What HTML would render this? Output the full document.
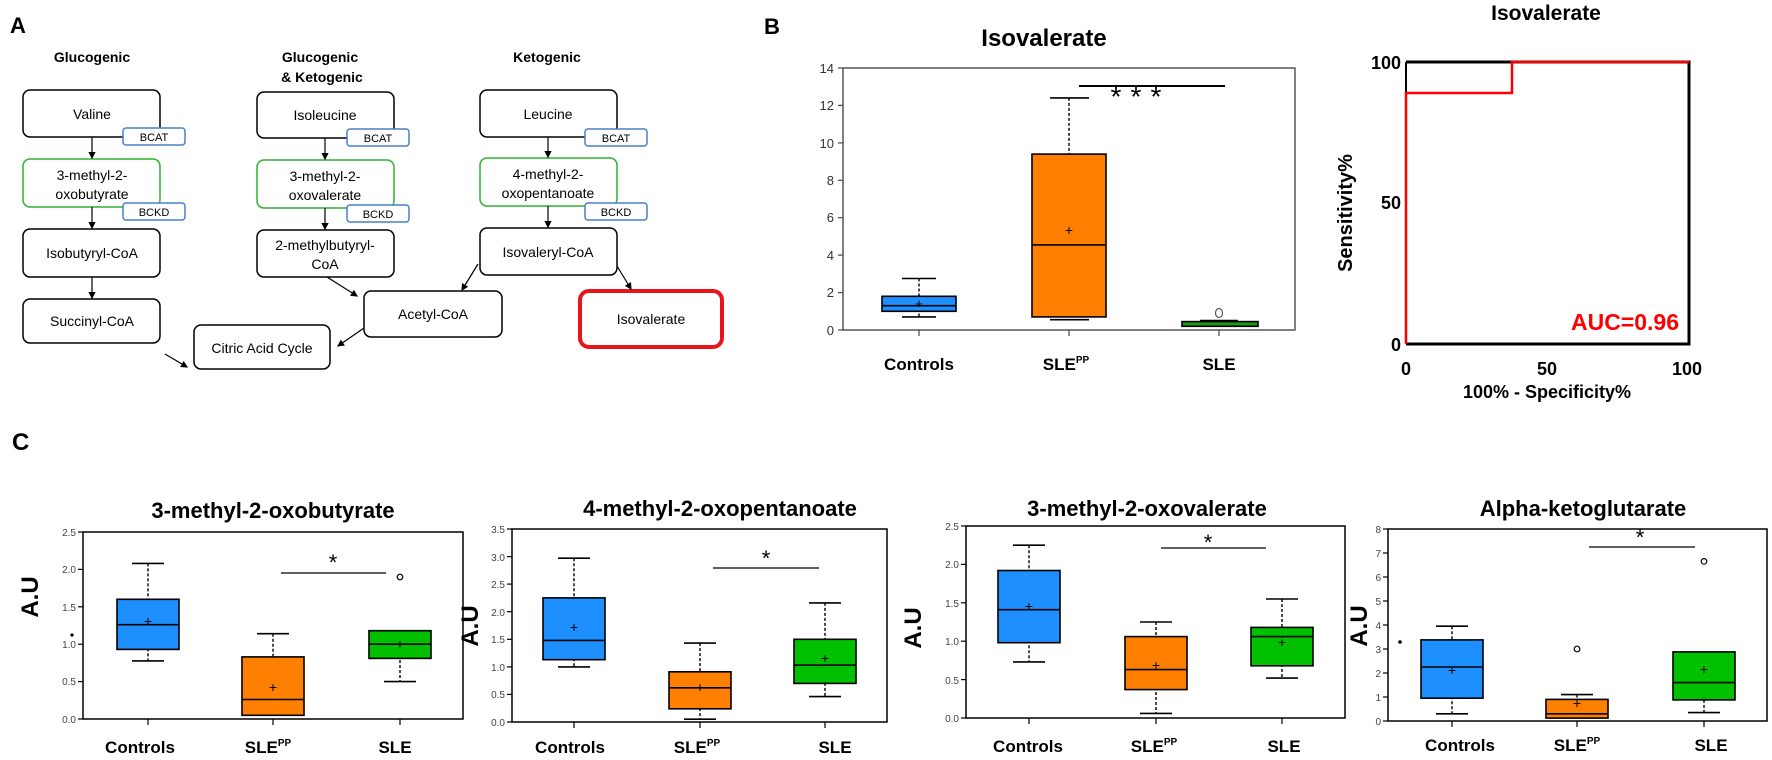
<!DOCTYPE html>
<html><head><meta charset="utf-8"><style>
html,body{margin:0;padding:0;background:#fff;}
svg{display:block;}
text{font-family:"Liberation Sans",sans-serif;}
.bx{stroke:#000;stroke-width:1.6;}
.wd{stroke:#000;stroke-width:1.4;stroke-dasharray:3,2;}
.wc{stroke:#000;stroke-width:1.6;}
.tk{font-size:10px;fill:#444;text-anchor:end;}
.xl{font-size:17px;font-weight:bold;text-anchor:middle;}
.ct{font-size:22px;font-weight:bold;text-anchor:middle;}
.au{font-size:24px;font-weight:bold;text-anchor:middle;}
.ab{font-size:14px;text-anchor:middle;}
.hd{font-size:14px;font-weight:bold;text-anchor:middle;}
.en{font-size:11px;text-anchor:middle;}
</style></head><body>
<svg width="1772" height="760" viewBox="0 0 1772 760" xmlns="http://www.w3.org/2000/svg">
<defs><marker id="ar" markerWidth="6" markerHeight="6" refX="5" refY="3" orient="auto"><path d="M0,0 L6,3 L0,6 z" fill="#000"/></marker></defs>
<!-- Panel A -->
<text x="10" y="33" font-size="22" font-weight="bold">A</text>
<text class="hd" x="92" y="62">Glucogenic</text>
<text class="hd" x="320" y="62">Glucogenic</text>
<text class="hd" x="322" y="82">&amp; Ketogenic</text>
<text class="hd" x="547" y="62">Ketogenic</text>
<g fill="#fff" stroke="#000" stroke-width="1.5">
<rect x="23" y="90" width="137" height="47" rx="7"/>
<rect x="23" y="229" width="137" height="48" rx="7"/>
<rect x="23" y="299" width="137" height="44" rx="7"/>
<rect x="257" y="92" width="137" height="46" rx="7"/>
<rect x="257" y="230" width="137" height="47" rx="7"/>
<rect x="480" y="90" width="137" height="47" rx="7"/>
<rect x="480" y="228" width="137" height="47" rx="7"/>
<rect x="364" y="291" width="138" height="46" rx="7"/>
<rect x="194" y="325" width="136" height="44" rx="7"/>
</g>
<g fill="#fff" stroke="#2db32d" stroke-width="1.5">
<rect x="23" y="159" width="137" height="48" rx="7"/>
<rect x="257" y="160" width="137" height="48" rx="7"/>
<rect x="480" y="158" width="137" height="48" rx="7"/>
</g>
<rect x="580" y="291" width="142" height="56" rx="9" fill="#fff" stroke="#e8141b" stroke-width="4"/>
<g fill="#fff" stroke="#4a7fc8" stroke-width="1.5">
<rect x="123" y="128" width="62" height="17" rx="3"/>
<rect x="123" y="203" width="62" height="17" rx="3"/>
<rect x="347" y="129" width="62" height="17" rx="3"/>
<rect x="347" y="205" width="62" height="17" rx="3"/>
<rect x="585" y="129" width="62" height="17" rx="3"/>
<rect x="585" y="203" width="62" height="17" rx="3"/>
</g>
<g stroke="#000" stroke-width="1.2" marker-end="url(#ar)">
<line x1="92" y1="137" x2="92" y2="158"/>
<line x1="92" y1="207" x2="92" y2="228"/>
<line x1="92" y1="277" x2="92" y2="298"/>
<line x1="325" y1="138" x2="325" y2="159"/>
<line x1="325" y1="208" x2="325" y2="229"/>
<line x1="548" y1="137" x2="548" y2="157"/>
<line x1="548" y1="206" x2="548" y2="227"/>
<line x1="327" y1="277" x2="357" y2="296"/>
<line x1="478" y1="264" x2="462" y2="290"/>
<line x1="617" y1="266" x2="631" y2="289"/>
<line x1="364" y1="328" x2="338" y2="346"/>
<line x1="165" y1="354" x2="187" y2="367"/>
</g>
<text class="ab" x="92" y="119">Valine</text>
<text class="ab" x="92" y="180">3-methyl-2-</text>
<text class="ab" x="92" y="199">oxobutyrate</text>
<text class="ab" x="92" y="258">Isobutyryl-CoA</text>
<text class="ab" x="92" y="326">Succinyl-CoA</text>
<text class="ab" x="325" y="120">Isoleucine</text>
<text class="ab" x="325" y="181">3-methyl-2-</text>
<text class="ab" x="325" y="200">oxovalerate</text>
<text class="ab" x="325" y="250">2-methylbutyryl-</text>
<text class="ab" x="325" y="269">CoA</text>
<text class="ab" x="548" y="119">Leucine</text>
<text class="ab" x="548" y="179">4-methyl-2-</text>
<text class="ab" x="548" y="198">oxopentanoate</text>
<text class="ab" x="548" y="257">Isovaleryl-CoA</text>
<text class="ab" x="433" y="319">Acetyl-CoA</text>
<text class="ab" x="262" y="353">Citric Acid Cycle</text>
<text class="ab" x="651" y="324">Isovalerate</text>
<text class="en" x="154" y="141">BCAT</text>
<text class="en" x="154" y="216">BCKD</text>
<text class="en" x="378" y="142">BCAT</text>
<text class="en" x="378" y="218">BCKD</text>
<text class="en" x="616" y="142">BCAT</text>
<text class="en" x="616" y="216">BCKD</text>

<!-- Panel B box -->
<text x="764" y="34" font-size="22" font-weight="bold">B</text>
<text x="1044" y="46" font-size="24" font-weight="bold" text-anchor="middle">Isovalerate</text>
<rect x="843" y="68" width="452" height="262" fill="none" stroke="#555" stroke-width="1.5"/>
<g stroke="#555" stroke-width="1.3">
<line x1="838" y1="330" x2="843" y2="330"/><line x1="838" y1="292.6" x2="843" y2="292.6"/><line x1="838" y1="255.1" x2="843" y2="255.1"/><line x1="838" y1="217.7" x2="843" y2="217.7"/><line x1="838" y1="180.3" x2="843" y2="180.3"/><line x1="838" y1="142.9" x2="843" y2="142.9"/><line x1="838" y1="105.4" x2="843" y2="105.4"/><line x1="838" y1="68" x2="843" y2="68"/>
<line x1="919" y1="330" x2="919" y2="336"/><line x1="1069" y1="330" x2="1069" y2="336"/><line x1="1219" y1="330" x2="1219" y2="336"/>
</g>
<g font-size="13" fill="#333" text-anchor="end">
<text x="834" y="335">0</text><text x="834" y="297">2</text><text x="834" y="260">4</text><text x="834" y="222">6</text><text x="834" y="185">8</text><text x="834" y="148">10</text><text x="834" y="110">12</text><text x="834" y="73">14</text>
</g>
<line class="wd" x1="919" y1="278.5" x2="919" y2="316.9"/><line class="wc" x1="902" y1="278.5" x2="936" y2="278.5"/><line class="wc" x1="902" y1="316.9" x2="936" y2="316.9"/>
<rect class="bx" x="882" y="296.3" width="74" height="15" fill="#1e8fff"/><line class="wc" x1="882" y1="305.7" x2="956" y2="305.7"/>
<text x="919" y="308" font-size="13" text-anchor="middle">+</text>
<line class="wd" x1="1069" y1="97.9" x2="1069" y2="154"/><line class="wc" x1="1050" y1="97.9" x2="1089" y2="97.9"/><line class="wc" x1="1050" y1="319.7" x2="1089" y2="319.7" stroke="#888"/>
<rect class="bx" x="1032" y="154.1" width="74" height="162.8" fill="#ff8000"/><line class="wc" x1="1032" y1="244.9" x2="1106" y2="244.9"/>
<text x="1069" y="235" font-size="14" text-anchor="middle">+</text>
<rect class="bx" x="1182" y="321.6" width="76" height="4.7" fill="#1a9a1a"/><line class="wc" x1="1200" y1="320.5" x2="1238" y2="320.5"/>
<ellipse cx="1219" cy="313" rx="3.5" ry="4.5" fill="#fff" stroke="#555" stroke-width="1.2"/>
<line x1="1079" y1="86" x2="1225" y2="86" stroke="#000" stroke-width="2"/>
<text x="1116" y="106" font-size="28" text-anchor="middle">*</text>
<text x="1136" y="106" font-size="28" text-anchor="middle">*</text>
<text x="1156" y="106" font-size="28" text-anchor="middle">*</text>
<text class="xl" x="919" y="370" font-size="16">Controls</text>
<text class="xl" x="1066" y="370">SLE<tspan font-size="10" dy="-7">PP</tspan></text>
<text class="xl" x="1219" y="370">SLE</text>

<!-- ROC -->
<text x="1546" y="20" font-size="21" font-weight="bold" text-anchor="middle">Isovalerate</text>
<polyline points="1406,62 1689,62 1689,344 1406,344" fill="none" stroke="#000" stroke-width="3"/>
<line x1="1406" y1="62" x2="1406" y2="93" stroke="#000" stroke-width="2"/>
<polyline points="1406,344 1406,93 1512,93 1512,62 1689,62" fill="none" stroke="#f00" stroke-width="2.5"/>
<g font-size="18" font-weight="bold" text-anchor="end">
<text x="1401" y="69">100</text><text x="1401" y="209">50</text><text x="1401" y="351">0</text>
</g>
<g font-size="18" font-weight="bold" text-anchor="middle">
<text x="1406" y="375">0</text><text x="1547" y="375">50</text><text x="1687" y="375">100</text>
<text x="1547" y="398">100% - Specificity%</text>
</g>
<text transform="translate(1352,213) rotate(-90)" font-size="20" font-weight="bold" text-anchor="middle">Sensitivity%</text>
<text x="1679" y="330" font-size="23" font-weight="bold" fill="#f00" text-anchor="end">AUC=0.96</text>

<!-- Panel C -->
<text x="12" y="450" font-size="24" font-weight="bold">C</text>

<!-- C1 -->
<text class="ct" x="273" y="518">3-methyl-2-oxobutyrate</text>
<rect x="83" y="532" width="380" height="187" fill="none" stroke="#000" stroke-width="1.5"/>
<g stroke="#000" stroke-width="1.2"><line x1="78" y1="719" x2="83" y2="719"/><line x1="78" y1="681.6" x2="83" y2="681.6"/><line x1="78" y1="644.2" x2="83" y2="644.2"/><line x1="78" y1="606.8" x2="83" y2="606.8"/><line x1="78" y1="569.4" x2="83" y2="569.4"/><line x1="78" y1="532" x2="83" y2="532"/>
<line x1="148" y1="719" x2="148" y2="725"/><line x1="273" y1="719" x2="273" y2="725"/><line x1="400" y1="719" x2="400" y2="725"/></g>
<g class="tk"><text x="76" y="723">0.0</text><text x="76" y="685">0.5</text><text x="76" y="648">1.0</text><text x="76" y="611">1.5</text><text x="76" y="573">2.0</text><text x="76" y="536">2.5</text></g>
<line class="wd" x1="148" y1="563.4" x2="148" y2="660.9"/><line class="wc" x1="132" y1="563.4" x2="164" y2="563.4"/><line class="wc" x1="132" y1="660.9" x2="164" y2="660.9"/>
<rect class="bx" x="117" y="599.3" width="62" height="50.1" fill="#1e8fff"/><line class="wc" x1="117" y1="624.7" x2="179" y2="624.7"/><text x="148" y="626" font-size="14" text-anchor="middle">+</text>
<line class="wd" x1="273" y1="633.7" x2="273" y2="657"/><line class="wc" x1="257" y1="633.7" x2="289" y2="633.7"/>
<rect class="bx" x="242" y="656.9" width="62" height="58.4" fill="#ff8000"/><line class="wc" x1="242" y1="699.5" x2="304" y2="699.5"/><text x="273" y="692" font-size="14" text-anchor="middle">+</text>
<line class="wd" x1="400" y1="630" x2="400" y2="681.6"/><line class="wc" x1="384" y1="681.6" x2="416" y2="681.6"/>
<rect class="bx" x="369" y="630.7" width="62" height="27.7" fill="#00c000"/><line class="wc" x1="369" y1="644.2" x2="431" y2="644.2"/><text x="400" y="649" font-size="14" text-anchor="middle">+</text>
<circle cx="400" cy="577" r="2.8" fill="#fff" stroke="#000" stroke-width="1.2"/>
<circle cx="72" cy="635" r="1.6" fill="#000"/>
<line x1="281" y1="573" x2="386" y2="573" stroke="#000" stroke-width="1.2"/>
<text x="333" y="570" font-size="22" text-anchor="middle">*</text>
<text class="au" transform="translate(38,597) rotate(-90)">A.U</text>
<text class="xl" x="140" y="753">Controls</text><text class="xl" x="268" y="753">SLE<tspan font-size="10" dy="-7">PP</tspan></text><text class="xl" x="395" y="753">SLE</text>

<!-- C2 -->
<text class="ct" x="720" y="516">4-methyl-2-oxopentanoate</text>
<rect x="512" y="529" width="375" height="193" fill="none" stroke="#000" stroke-width="1.5"/>
<g stroke="#000" stroke-width="1.2"><line x1="507" y1="722" x2="512" y2="722"/><line x1="507" y1="694.4" x2="512" y2="694.4"/><line x1="507" y1="666.9" x2="512" y2="666.9"/><line x1="507" y1="639.3" x2="512" y2="639.3"/><line x1="507" y1="611.7" x2="512" y2="611.7"/><line x1="507" y1="584.1" x2="512" y2="584.1"/><line x1="507" y1="556.6" x2="512" y2="556.6"/><line x1="507" y1="529" x2="512" y2="529"/>
<line x1="574" y1="722" x2="574" y2="728"/><line x1="700" y1="722" x2="700" y2="728"/><line x1="825" y1="722" x2="825" y2="728"/></g>
<g class="tk"><text x="505" y="726">0.0</text><text x="505" y="698">0.5</text><text x="505" y="671">1.0</text><text x="505" y="643">1.5</text><text x="505" y="616">2.0</text><text x="505" y="588">2.5</text><text x="505" y="561">3.0</text><text x="505" y="533">3.5</text></g>
<line class="wd" x1="574" y1="558.2" x2="574" y2="666.9"/><line class="wc" x1="558" y1="558.2" x2="590" y2="558.2"/><line class="wc" x1="558" y1="666.9" x2="590" y2="666.9"/>
<rect class="bx" x="543" y="597.9" width="62" height="61.8" fill="#1e8fff"/><line class="wc" x1="543" y1="640.4" x2="605" y2="640.4"/><text x="574" y="632" font-size="14" text-anchor="middle">+</text>
<line class="wd" x1="700" y1="643.1" x2="700" y2="719.2"/><line class="wc" x1="684" y1="643.1" x2="716" y2="643.1"/><line class="wc" x1="684" y1="719.2" x2="716" y2="719.2"/>
<rect class="bx" x="669" y="671.8" width="62" height="37" fill="#ff8000"/><line class="wc" x1="669" y1="687.8" x2="731" y2="687.8"/><text x="700" y="692" font-size="14" text-anchor="middle">+</text>
<line class="wd" x1="825" y1="602.9" x2="825" y2="696.6"/><line class="wc" x1="809" y1="602.9" x2="841" y2="602.9"/><line class="wc" x1="809" y1="696.6" x2="841" y2="696.6"/>
<rect class="bx" x="794" y="639.3" width="62" height="44.1" fill="#00c000"/><line class="wc" x1="794" y1="665.2" x2="856" y2="665.2"/><text x="825" y="663" font-size="14" text-anchor="middle">+</text>
<line x1="713" y1="568" x2="819" y2="568" stroke="#000" stroke-width="1.2"/>
<text x="766" y="566" font-size="22" text-anchor="middle">*</text>
<text class="au" transform="translate(478,626) rotate(-90)">A.U</text>
<text class="xl" x="570" y="753">Controls</text><text class="xl" x="697" y="753">SLE<tspan font-size="10" dy="-7">PP</tspan></text><text class="xl" x="835" y="753">SLE</text>

<!-- C3 -->
<text class="ct" x="1147" y="516">3-methyl-2-oxovalerate</text>
<rect x="966" y="526" width="379" height="192" fill="none" stroke="#000" stroke-width="1.5"/>
<g stroke="#000" stroke-width="1.2"><line x1="961" y1="718" x2="966" y2="718"/><line x1="961" y1="679.6" x2="966" y2="679.6"/><line x1="961" y1="641.2" x2="966" y2="641.2"/><line x1="961" y1="602.8" x2="966" y2="602.8"/><line x1="961" y1="564.4" x2="966" y2="564.4"/><line x1="961" y1="526" x2="966" y2="526"/>
<line x1="1029" y1="718" x2="1029" y2="724"/><line x1="1156" y1="718" x2="1156" y2="724"/><line x1="1282" y1="718" x2="1282" y2="724"/></g>
<g class="tk"><text x="959" y="722">0.0</text><text x="959" y="684">0.5</text><text x="959" y="645">1.0</text><text x="959" y="607">1.5</text><text x="959" y="568">2.0</text><text x="959" y="530">2.5</text></g>
<line class="wd" x1="1029" y1="545.2" x2="1029" y2="661.9"/><line class="wc" x1="1013" y1="545.2" x2="1045" y2="545.2"/><line class="wc" x1="1013" y1="661.9" x2="1045" y2="661.9"/>
<rect class="bx" x="998" y="570.5" width="62" height="72.2" fill="#1e8fff"/><line class="wc" x1="998" y1="609.7" x2="1060" y2="609.7"/><text x="1029" y="611" font-size="14" text-anchor="middle">+</text>
<line class="wd" x1="1156" y1="622" x2="1156" y2="713.4"/><line class="wc" x1="1140" y1="622" x2="1172" y2="622"/><line class="wc" x1="1140" y1="713.4" x2="1172" y2="713.4"/>
<rect class="bx" x="1125" y="636.6" width="62" height="53" fill="#ff8000"/><line class="wc" x1="1125" y1="669.6" x2="1187" y2="669.6"/><text x="1156" y="670" font-size="14" text-anchor="middle">+</text>
<line class="wd" x1="1282" y1="599" x2="1282" y2="678.1"/><line class="wc" x1="1266" y1="599" x2="1298" y2="599"/><line class="wc" x1="1266" y1="678.1" x2="1298" y2="678.1"/>
<rect class="bx" x="1251" y="627.4" width="62" height="38.4" fill="#00c000"/><line class="wc" x1="1251" y1="636.6" x2="1313" y2="636.6"/><text x="1282" y="647" font-size="14" text-anchor="middle">+</text>
<line x1="1161" y1="548" x2="1266" y2="548" stroke="#000" stroke-width="1.2"/>
<text x="1208" y="550" font-size="22" text-anchor="middle">*</text>
<text class="au" transform="translate(921,628) rotate(-90)">A.U</text>
<text class="xl" x="1028" y="752">Controls</text><text class="xl" x="1154" y="752">SLE<tspan font-size="10" dy="-7">PP</tspan></text><text class="xl" x="1284" y="752">SLE</text>

<!-- C4 -->
<text class="ct" x="1583" y="516">Alpha-ketoglutarate</text>
<rect x="1388" y="529" width="379" height="192" fill="none" stroke="#000" stroke-width="1.5"/>
<g stroke="#000" stroke-width="1.2"><line x1="1383" y1="721" x2="1388" y2="721"/><line x1="1383" y1="697" x2="1388" y2="697"/><line x1="1383" y1="673" x2="1388" y2="673"/><line x1="1383" y1="649" x2="1388" y2="649"/><line x1="1383" y1="625" x2="1388" y2="625"/><line x1="1383" y1="601" x2="1388" y2="601"/><line x1="1383" y1="577" x2="1388" y2="577"/><line x1="1383" y1="553" x2="1388" y2="553"/><line x1="1383" y1="529" x2="1388" y2="529"/>
<line x1="1452" y1="721" x2="1452" y2="727"/><line x1="1577" y1="721" x2="1577" y2="727"/><line x1="1704" y1="721" x2="1704" y2="727"/></g>
<g class="tk"><text x="1381" y="725">0</text><text x="1381" y="701">1</text><text x="1381" y="677">2</text><text x="1381" y="653">3</text><text x="1381" y="629">4</text><text x="1381" y="605">5</text><text x="1381" y="581">6</text><text x="1381" y="557">7</text><text x="1381" y="533">8</text></g>
<line class="wd" x1="1452" y1="626.2" x2="1452" y2="713.8"/><line class="wc" x1="1436" y1="626.2" x2="1468" y2="626.2"/><line class="wc" x1="1436" y1="713.8" x2="1468" y2="713.8"/>
<rect class="bx" x="1421" y="639.9" width="62" height="58.3" fill="#1e8fff"/><line class="wc" x1="1421" y1="667" x2="1483" y2="667"/><text x="1452" y="675" font-size="14" text-anchor="middle">+</text>
<circle cx="1400" cy="642" r="1.8" fill="#000"/>
<line class="wd" x1="1577" y1="694.6" x2="1577" y2="699.4"/><line class="wc" x1="1561" y1="694.6" x2="1593" y2="694.6"/>
<rect class="bx" x="1546" y="699.4" width="62" height="18.7" fill="#ff8000"/><line class="wc" x1="1546" y1="713.8" x2="1608" y2="713.8"/><text x="1577" y="708" font-size="14" text-anchor="middle">+</text>
<circle cx="1577" cy="649" r="2.8" fill="#fff" stroke="#000" stroke-width="1.2"/>
<line class="wd" x1="1704" y1="699.9" x2="1704" y2="712.6"/><line class="wc" x1="1688" y1="712.6" x2="1720" y2="712.6"/>
<rect class="bx" x="1673" y="651.9" width="62" height="48" fill="#00c000"/><line class="wc" x1="1673" y1="682.6" x2="1735" y2="682.6"/><text x="1704" y="674" font-size="14" text-anchor="middle">+</text>
<circle cx="1704" cy="561.4" r="2.8" fill="#fff" stroke="#000" stroke-width="1.2"/>
<line x1="1589" y1="547" x2="1695" y2="547" stroke="#000" stroke-width="1.2"/>
<text x="1640" y="545" font-size="22" text-anchor="middle">*</text>
<text class="au" transform="translate(1367,626) rotate(-90)">A.U</text>
<text class="xl" x="1460" y="751">Controls</text><text class="xl" x="1577" y="751">SLE<tspan font-size="10" dy="-7">PP</tspan></text><text class="xl" x="1711" y="751">SLE</text>
</svg>
</body></html>
